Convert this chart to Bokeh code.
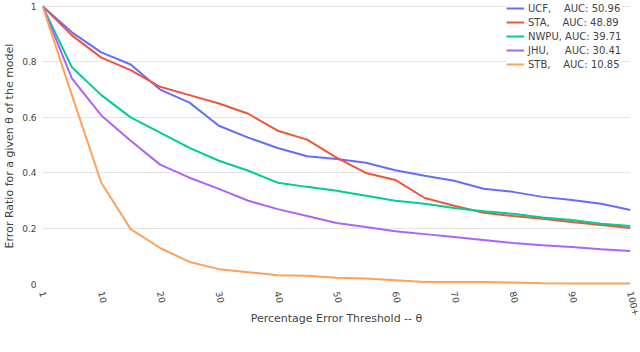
import math
from bokeh.plotting import figure
from bokeh.models import Range1d, FixedTicker, Legend, LegendItem
from bokeh.embed import file_html
from bokeh.resources import INLINE

thresholds = ["1", "5", "10", "15", "20", "25", "30", "35", "40", "45", "50",
              "55", "60", "65", "70", "75", "80", "85", "90", "95", "100+"]
tick_labels = ["1", "10", "20", "30", "40", "50", "60", "70", "80", "90", "100+"]

ucf = [1.0, 0.906, 0.834, 0.79, 0.70, 0.653, 0.57, 0.527, 0.49, 0.46, 0.45,
       0.437, 0.41, 0.39, 0.372, 0.343, 0.332, 0.314, 0.303, 0.289, 0.267]
sta = [1.0, 0.895, 0.815, 0.77, 0.71, 0.68, 0.65, 0.613, 0.552, 0.52, 0.455,
       0.40, 0.375, 0.31, 0.282, 0.257, 0.245, 0.235, 0.224, 0.213, 0.202]
nwpu = [1.0, 0.78, 0.68, 0.60, 0.545, 0.49, 0.444, 0.408, 0.365, 0.35, 0.336,
        0.318, 0.30, 0.289, 0.274, 0.262, 0.253, 0.24, 0.231, 0.217, 0.209]
jhu = [1.0, 0.74, 0.607, 0.516, 0.43, 0.383, 0.343, 0.30, 0.27, 0.245, 0.22,
       0.206, 0.19, 0.18, 0.17, 0.159, 0.148, 0.14, 0.134, 0.126, 0.119]
stb = [1.0, 0.68, 0.365, 0.198, 0.13, 0.08, 0.054, 0.043, 0.032, 0.03, 0.023,
       0.02, 0.014, 0.008, 0.008, 0.008, 0.006, 0.003, 0.002, 0.002, 0.002]

NB = "\u00a0"
names = ["UCF," + NB * 4 + "AUC: 50.96",
         "STA," + NB * 4 + "AUC: 48.89",
         "NWPU, AUC: 39.71",
         "JHU," + NB * 5 + "AUC: 30.41",
         "STB," + NB * 4 + "AUC: 10.85"]
series = [ucf, sta, nwpu, jhu, stb]
colors = ["#636efa", "#EF553B", "#00cc96", "#ab63fa", "#FFA15A"]

FONT = "DejaVu Sans"
xs = list(range(len(thresholds)))

p = figure(width=640, height=328, output_backend="svg", toolbar_location=None,
           x_range=Range1d(0, len(thresholds) - 1), y_range=Range1d(-0.012, 1.006),
           min_border_left=42, min_border_right=10, min_border_top=4, min_border_bottom=4)
p.outline_line_color = None
p.background_fill_color = "white"

items = []
for name, ys, c in zip(names, series, colors):
    r = p.line(xs, ys, line_color=c, line_width=2)
    items.append(LegendItem(label=name, renderers=[r]))

# axes
tick_pos = [thresholds.index(t) for t in tick_labels]
p.xaxis.ticker = FixedTicker(ticks=tick_pos)
p.xaxis.major_label_overrides = {i: thresholds[i] for i in tick_pos}
p.xaxis.major_label_orientation = -1.33
p.xaxis.axis_label = "Percentage Error Threshold -- \u03b8"

yticks = [0, 0.2, 0.4, 0.6, 0.8, 1]
p.yaxis.ticker = FixedTicker(ticks=yticks)
p.yaxis.major_label_overrides = {0: "0", 0.2: "0.2", 0.4: "0.4", 0.6: "0.6", 0.8: "0.8", 1: "1"}
p.yaxis.axis_label = "Error Ratio for a given \u03b8 of the model"

for ax in (p.xaxis[0], p.yaxis[0]):
    ax.axis_line_color = None
    ax.major_tick_line_color = None
    ax.minor_tick_line_color = None
    ax.major_tick_out = 0
    ax.major_tick_in = 0
    ax.minor_tick_out = 0
    ax.minor_tick_in = 0
    ax.major_label_text_font = FONT
    ax.major_label_text_font_size = "9px"
    ax.major_label_text_color = "#444444"
    ax.axis_label_text_font = FONT
    ax.axis_label_text_font_size = "11px"
    ax.axis_label_text_font_style = "normal"
    ax.axis_label_text_color = "#444444"
p.xaxis.major_label_standoff = 4
p.xaxis.axis_label_standoff = -8
p.yaxis.major_label_standoff = 6
p.yaxis.axis_label_standoff = 3

p.xgrid.grid_line_color = None
p.ygrid.ticker = FixedTicker(ticks=[0.2, 0.4, 0.6, 0.8, 1])
p.ygrid.grid_line_color = "#e5e5e5"
p.ygrid.grid_line_width = 1

legend = Legend(items=items, location=(464, 216))
legend.label_text_font = FONT
legend.label_text_font_size = "10px"
legend.label_text_color = "#444444"
legend.background_fill_color = "white"
legend.background_fill_alpha = 1
legend.border_line_color = None
legend.glyph_width = 18
legend.glyph_height = 14
legend.label_height = 14
legend.label_standoff = 4
legend.spacing = 0
legend.padding = 2
legend.margin = 0
p.add_layout(legend)

open("out.html", "w").write(file_html(p, INLINE))
